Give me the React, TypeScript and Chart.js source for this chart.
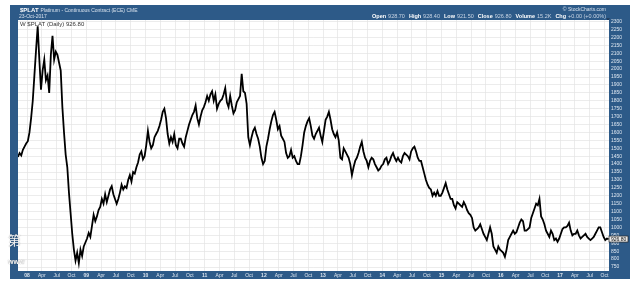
import React, { useEffect, useRef } from "react";
import { Chart, registerables } from "chart.js";
Chart.register(...registerables);

const BLUE = "#2d5a88";

// Platinum continuous contract, ~3 readings per month
const p2007 = [1445, 1470, 1455, 1490, 1510, 1530]; // Nov, Dec
const p2008 = [1545, 1600, 1690, 1800, 1960, 2120, 2270, 2060, 1870, 1990, 2060, 1930, 1960, 1850, 2090, 2210, 2060, 2110, 2090, 2040, 1990, 1760, 1600, 1460, 1380, 1220, 1090, 960, 860, 790, 840, 775, 860, 820, 880, 905];
const p2009 = [930, 965, 940, 1010, 1080, 1040, 1070, 1110, 1130, 1180, 1150, 1210, 1160, 1200, 1240, 1260, 1210, 1180, 1150, 1180, 1220, 1270, 1240, 1260, 1250, 1300, 1330, 1290, 1350, 1340, 1380, 1410, 1460, 1480, 1430, 1450];
const p2010 = [1520, 1610, 1540, 1500, 1520, 1570, 1590, 1610, 1640, 1680, 1730, 1750, 1690, 1590, 1530, 1570, 1540, 1590, 1520, 1500, 1560, 1560, 1530, 1510, 1570, 1610, 1650, 1680, 1710, 1730, 1770, 1690, 1650, 1700, 1740, 1760];
const p2011 = [1790, 1830, 1800, 1840, 1860, 1800, 1840, 1750, 1780, 1800, 1810, 1840, 1880, 1790, 1760, 1830, 1770, 1720, 1740, 1790, 1810, 1830, 1970, 1860, 1850, 1780, 1570, 1520, 1570, 1610, 1630, 1590, 1560, 1510, 1440, 1400];
const p2012 = [1420, 1510, 1560, 1620, 1670, 1710, 1730, 1680, 1620, 1640, 1580, 1560, 1540, 1470, 1440, 1450, 1490, 1440, 1450, 1420, 1400, 1400, 1450, 1520, 1600, 1640, 1670, 1690, 1640, 1580, 1560, 1590, 1610, 1630, 1580, 1540];
const p2013 = [1610, 1680, 1700, 1730, 1680, 1620, 1590, 1570, 1600, 1550, 1440, 1430, 1500, 1480, 1460, 1440, 1400, 1330, 1380, 1420, 1440, 1470, 1510, 1540, 1480, 1440, 1420, 1380, 1420, 1440, 1430, 1400, 1380, 1360, 1370, 1390];
const p2014 = [1400, 1430, 1440, 1400, 1420, 1450, 1470, 1440, 1420, 1440, 1420, 1410, 1450, 1470, 1460, 1450, 1430, 1480, 1500, 1510, 1480, 1440, 1420, 1420, 1380, 1340, 1300, 1270, 1250, 1240, 1200, 1220, 1200, 1230, 1200, 1200];
const p2015 = [1220, 1250, 1280, 1240, 1210, 1180, 1180, 1140, 1120, 1160, 1150, 1140, 1130, 1160, 1140, 1110, 1090, 1080, 1060, 1000, 980, 990, 1000, 1020, 990, 960, 940, 920, 960, 1000, 960, 880, 860, 840, 880, 860];
const p2016 = [850, 840, 815, 860, 920, 940, 960, 980, 960, 970, 1000, 1030, 1050, 1040, 980, 980, 990, 1000, 1060, 1090, 1120, 1150, 1140, 1180, 1070, 1050, 1020, 980, 960, 940, 980, 960, 920, 930, 910, 930];
const p2017 = [960, 990, 1000, 1000, 1010, 1030, 980, 950, 960, 960, 980, 950, 930, 940, 950, 960, 940, 930, 920, 930, 940, 960, 980, 1000, 1000, 970, 940, 920, 930, 926.8];

const seriesByYear: [number, number, number[]][] = [
  [2007, 10, p2007], [2008, 0, p2008], [2009, 0, p2009], [2010, 0, p2010], [2011, 0, p2011],
  [2012, 0, p2012], [2013, 0, p2013], [2014, 0, p2014], [2015, 0, p2015], [2016, 0, p2016], [2017, 0, p2017],
];

const years = [2008, 2009, 2010, 2011, 2012, 2013, 2014, 2015, 2016, 2017];
const yearLabels = ["08", "09", "10", "11", "12", "13", "14", "15", "16", "17"];
const quarterLabels = ["", "Apr", "Jul", "Oct"];
const yTickValues = [750, 800, 850, 900, 950, 1000, 1050, 1100, 1150, 1200, 1250, 1300, 1350, 1400, 1450, 1500, 1550, 1600, 1650, 1700, 1750, 1800, 1850, 1900, 1950, 2000, 2050, 2100, 2150, 2200, 2250, 2300];

const titleSymbol = "$PLAT";
const titleName = "Platinum - Continuous Contract (ECE) CME";
const titleDate = "23-Oct-2017";
const credit = "© StockCharts.com";
const quote: [string, string][] = [["Open", "928.70"], ["High", "928.40"], ["Low", "921.50"], ["Close", "926.80"], ["Volume", "15.2K"], ["Chg", "+0.00 (+0.00%)"]];
const legendText = "W $PLAT (Daily) 926.80";
const lastValue = 926.8;
const lastLabel = "926.80";

const FONT = "'Liberation Sans', Arial, sans-serif";

export default function App() {
  const ref = useRef<HTMLCanvasElement>(null);
  useEffect(() => {
    document.body.style.margin = "0";
    const points: { x: number; y: number }[] = [];
    seriesByYear.forEach(([yr, m0, vals]) => {
      vals.forEach((v, i) => {
        const m = m0 + Math.floor(i / 3);
        const k = i % 3;
        points.push({ x: yr + (m + (k + 0.5) / 3) / 12, y: v });
      });
    });
    const xTickValues: number[] = [];
    years.forEach((y) => { for (let q = 0; q < 4; q++) xTickValues.push(y + q / 4); });

    const frame = {
      id: "frame",
      beforeDraw(chart: any) {
        const { ctx, chartArea: a } = chart;
        ctx.save();
        ctx.fillStyle = "#fff";
        ctx.fillRect(0, 0, chart.width, chart.height);
        ctx.fillStyle = BLUE;
        ctx.fillRect(10, 5, 620, 274);
        ctx.fillStyle = "#fff";
        ctx.fillRect(a.left, a.top, a.right - a.left, a.bottom - a.top);
        // header
        ctx.textBaseline = "alphabetic";
        ctx.font = `bold 6px ${FONT}`;
        ctx.fillStyle = "#fff";
        ctx.fillText(titleSymbol, 20, 12);
        const w = ctx.measureText(titleSymbol).width;
        ctx.font = `5px ${FONT}`;
        ctx.fillStyle = "#d6e0ec";
        ctx.fillText(titleName, 22 + w, 12);
        ctx.fillText(titleDate, 19, 18);
        ctx.textAlign = "right";
        ctx.fillText(credit, 606, 11);
        // quote line, right aligned
        let x = 606;
        for (let i = quote.length - 1; i >= 0; i--) {
          const [lab, val] = quote[i];
          ctx.font = `5.5px ${FONT}`;
          ctx.fillStyle = "#c9d5e4";
          ctx.fillText(val, x, 18);
          x -= ctx.measureText(val).width + 2;
          ctx.font = `bold 5.5px ${FONT}`;
          ctx.fillStyle = "#fff";
          ctx.fillText(lab, x, 18);
          x -= ctx.measureText(lab).width + 4;
        }
        ctx.fillStyle = "#1a2a40";
        ctx.beginPath();
        ctx.moveTo(606, 18.5); ctx.lineTo(610, 18.5); ctx.lineTo(608, 20); ctx.closePath(); ctx.fill();
        ctx.restore();
      },
      afterDraw(chart: any) {
        const { ctx, chartArea: a, scales } = chart;
        ctx.save();
        ctx.font = `6px ${FONT}`;
        ctx.fillStyle = "#333";
        ctx.textBaseline = "alphabetic";
        ctx.fillText(legendText, a.left + 2, a.top + 5.5);
        const yy = scales.y.getPixelForValue(lastValue);
        ctx.fillStyle = "#e9e9e9";
        ctx.strokeStyle = "#222";
        ctx.lineWidth = 0.7;
        ctx.fillRect(a.right, yy - 3, 19, 6);
        ctx.strokeRect(a.right, yy - 3, 19, 6);
        ctx.font = `5px ${FONT}`;
        ctx.fillStyle = "#111";
        ctx.textBaseline = "middle";
        ctx.fillText(lastLabel, a.right + 2, yy + 0.3);
        // watermark remnants
        ctx.font = `13px 'Noto Sans CJK SC', sans-serif`;
        ctx.fillStyle = "rgba(255,255,255,0.95)";
        ctx.shadowColor = "rgba(80,80,80,0.8)";
        ctx.shadowBlur = 1;
        ctx.textBaseline = "alphabetic";
        ctx.fillText("第", 8, 245);
        ctx.font = `bold 7px ${FONT}`;
        ctx.fillText("www", 8, 264);
        ctx.restore();
      },
    };

    const chart = new Chart(ref.current!, {
      type: "line",
      data: {
        datasets: [{
          data: points,
          borderColor: "#000",
          borderWidth: 1.8,
          pointRadius: 0,
          tension: 0,
        }],
      },
      options: {
        animation: false,
        responsive: false,
        layout: { padding: { left: 18, top: 20, right: 10, bottom: 2 } },
        plugins: { legend: { display: false }, tooltip: { enabled: false } },
        scales: {
          x: {
            type: "linear",
            min: 2007.848,
            max: 2017.827,
            afterBuildTicks: (s: any) => { s.ticks = xTickValues.map((v) => ({ value: v })); },
            afterFit: (s: any) => { s.height = 8; },
            grid: { color: "#e4e4e4", lineWidth: 0.7, drawTicks: false },
            border: { display: false },
            ticks: {
              autoSkip: false,
              maxRotation: 0,
              padding: 1.5,
              color: "#dde6f0",
              font: (c: any) => ({ size: 5, family: FONT, weight: c.index % 4 === 0 ? "bold" : "normal" }),
              callback: (_v: any, i: number) => (i % 4 === 0 ? yearLabels[Math.floor(i / 4)] : quarterLabels[i % 4]),
            },
          },
          y: {
            type: "linear",
            position: "right",
            min: 725,
            max: 2310,
            afterBuildTicks: (s: any) => { s.ticks = yTickValues.map((v) => ({ value: v })); },
            afterFit: (s: any) => { s.width = 21; },
            grid: { color: "#e4e4e4", lineWidth: 0.7, drawTicks: false },
            border: { display: false },
            ticks: {
              autoSkip: false,
              padding: 2,
              color: "#dde6f0",
              font: { size: 5, family: FONT },
              callback: (v: any) => String(v),
            },
          },
        },
      },
      plugins: [frame],
    });
    return () => chart.destroy();
  }, []);
  return <canvas ref={ref} width={640} height={281} style={{ display: "block" }} />;
}
